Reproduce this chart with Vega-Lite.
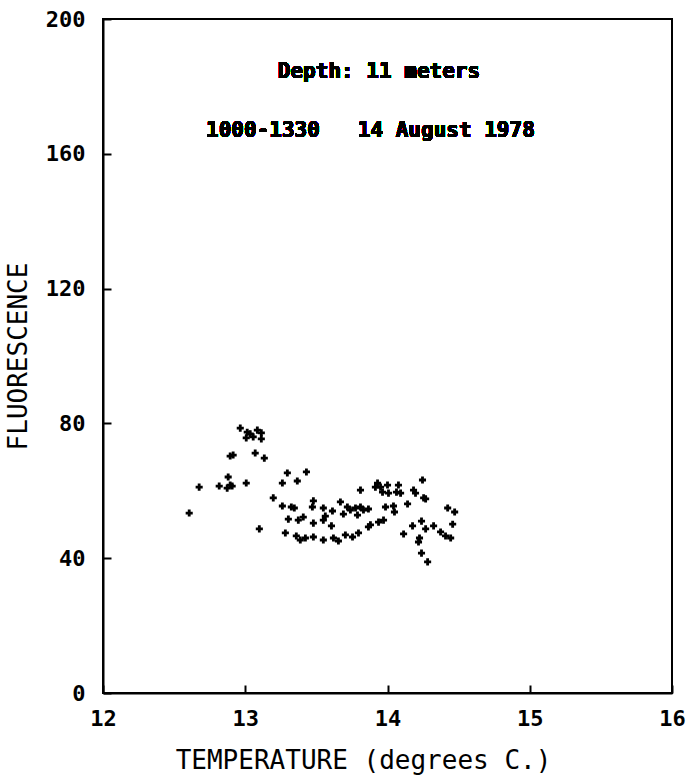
{
  "$schema": "https://vega.github.io/schema/vega-lite/v6.json",
  "autosize": "none",
  "width": 569,
  "height": 674,
  "padding": {"left": 103, "top": 19, "right": 23, "bottom": 88},
  "background": "white",
  "config": {
    "view": {"stroke": "black", "strokeWidth": 2},
    "axis": {
      "grid": false,
      "ticks": true,
      "zindex": 1,
      "labelFlush": false,
      "domainColor": "black",
      "domainWidth": 2,
      "tickColor": "black",
      "tickWidth": 2,
      "tickSize": -8,
      "labelFont": "DejaVu Sans Mono",
      "labelFontSize": 22,
      "labelFontWeight": "bold",
      "labelColor": "black",
      "titleFont": "DejaVu Sans Mono",
      "titleFontSize": 26,
      "titleFontWeight": "normal",
      "titleColor": "black"
    }
  },
  "data": {
    "values": [
      {"t": 12.965, "f": 78.6}, {"t": 13.014, "f": 77.4}, {"t": 13.085, "f": 78.0}, {"t": 13.113, "f": 77.2},
      {"t": 13.007, "f": 75.7}, {"t": 13.056, "f": 76.0}, {"t": 13.113, "f": 75.4}, {"t": 13.035, "f": 76.9},
      {"t": 12.894, "f": 70.3}, {"t": 12.915, "f": 70.6}, {"t": 13.070, "f": 71.2}, {"t": 13.134, "f": 69.7},
      {"t": 12.880, "f": 64.1}, {"t": 12.894, "f": 61.7}, {"t": 12.817, "f": 61.4}, {"t": 12.873, "f": 60.8},
      {"t": 12.908, "f": 61.4}, {"t": 13.007, "f": 62.3}, {"t": 12.676, "f": 61.1}, {"t": 12.606, "f": 53.4},
      {"t": 13.099, "f": 48.7}, {"t": 13.296, "f": 65.3}, {"t": 13.430, "f": 65.6}, {"t": 13.366, "f": 62.9},
      {"t": 13.261, "f": 62.3}, {"t": 13.197, "f": 57.9}, {"t": 13.261, "f": 55.5}, {"t": 13.324, "f": 55.2},
      {"t": 13.345, "f": 54.9}, {"t": 13.479, "f": 57.0}, {"t": 13.472, "f": 55.2}, {"t": 13.303, "f": 51.6},
      {"t": 13.373, "f": 51.3}, {"t": 13.408, "f": 52.2}, {"t": 13.479, "f": 50.4}, {"t": 13.282, "f": 47.5},
      {"t": 13.359, "f": 46.6}, {"t": 13.387, "f": 45.4}, {"t": 13.423, "f": 46.0}, {"t": 13.479, "f": 46.3},
      {"t": 13.549, "f": 54.9}, {"t": 13.613, "f": 54.0}, {"t": 13.669, "f": 56.7}, {"t": 13.718, "f": 55.2},
      {"t": 13.739, "f": 54.3}, {"t": 13.690, "f": 53.1}, {"t": 13.775, "f": 54.9}, {"t": 13.810, "f": 55.2},
      {"t": 13.831, "f": 54.3}, {"t": 13.789, "f": 52.8}, {"t": 13.866, "f": 54.6}, {"t": 13.810, "f": 60.2},
      {"t": 13.930, "f": 62.3}, {"t": 13.915, "f": 61.1}, {"t": 13.951, "f": 61.1}, {"t": 14.000, "f": 61.7},
      {"t": 13.965, "f": 59.6}, {"t": 14.007, "f": 59.3}, {"t": 14.077, "f": 61.7}, {"t": 14.063, "f": 59.6},
      {"t": 14.092, "f": 59.3}, {"t": 14.183, "f": 60.2}, {"t": 14.197, "f": 59.3}, {"t": 14.246, "f": 63.2},
      {"t": 14.254, "f": 57.9}, {"t": 14.268, "f": 57.6}, {"t": 13.986, "f": 55.2}, {"t": 14.042, "f": 55.5},
      {"t": 14.049, "f": 53.7}, {"t": 14.141, "f": 56.1}, {"t": 13.563, "f": 52.5}, {"t": 13.549, "f": 51.3},
      {"t": 13.606, "f": 49.6}, {"t": 13.549, "f": 45.4}, {"t": 13.620, "f": 46.0}, {"t": 13.655, "f": 45.1},
      {"t": 13.704, "f": 46.9}, {"t": 13.754, "f": 46.3}, {"t": 13.796, "f": 47.5}, {"t": 13.866, "f": 49.3},
      {"t": 13.880, "f": 49.9}, {"t": 13.937, "f": 50.7}, {"t": 13.972, "f": 51.3}, {"t": 14.423, "f": 54.9},
      {"t": 14.472, "f": 53.7}, {"t": 14.239, "f": 51.0}, {"t": 14.176, "f": 49.6}, {"t": 14.268, "f": 48.7},
      {"t": 14.324, "f": 49.6}, {"t": 14.113, "f": 47.2}, {"t": 14.225, "f": 46.0}, {"t": 14.218, "f": 44.8},
      {"t": 14.373, "f": 47.8}, {"t": 14.408, "f": 46.6}, {"t": 14.444, "f": 46.0}, {"t": 14.458, "f": 50.1},
      {"t": 14.239, "f": 41.5}, {"t": 14.282, "f": 38.9}
    ]
  },
  "layer": [
    {
      "mark": {"type": "point", "shape": "cross", "filled": true, "color": "black", "size": 50, "opacity": 1},
      "encoding": {
        "x": {
          "field": "t", "type": "quantitative",
          "scale": {"domain": [12, 16], "nice": false, "zero": false},
          "axis": {"values": [12, 13, 14, 15, 16], "format": "d", "title": "TEMPERATURE (degrees C.)", "labelPadding": 23, "titlePadding": 18, "titleX": 260}
        },
        "y": {
          "field": "f", "type": "quantitative",
          "scale": {"domain": [0, 200], "nice": false},
          "axis": {"values": [0, 40, 80, 120, 160, 200], "title": "FLUORESCENCE", "labelPadding": 26, "titlePadding": 14}
        }
      }
    },
    {
      "mark": {"type": "text", "font": "DejaVu Sans Mono", "fontSize": 21, "fontWeight": "bold", "color": "black", "align": "center", "baseline": "middle"},
      "encoding": {
        "x": {"datum": 13.94},
        "y": {"datum": 184.3},
        "text": {"value": "Depth: 11 meters"}
      }
    },
    {
      "mark": {"type": "text", "font": "DejaVu Sans Mono", "fontSize": 21, "fontWeight": "bold", "color": "black", "align": "center", "baseline": "middle"},
      "encoding": {
        "x": {"datum": 13.88},
        "y": {"datum": 166.8},
        "text": {"value": "1000-1330\u00a0\u00a0\u00a014 August 1978"}
      }
    }
  ]
}
